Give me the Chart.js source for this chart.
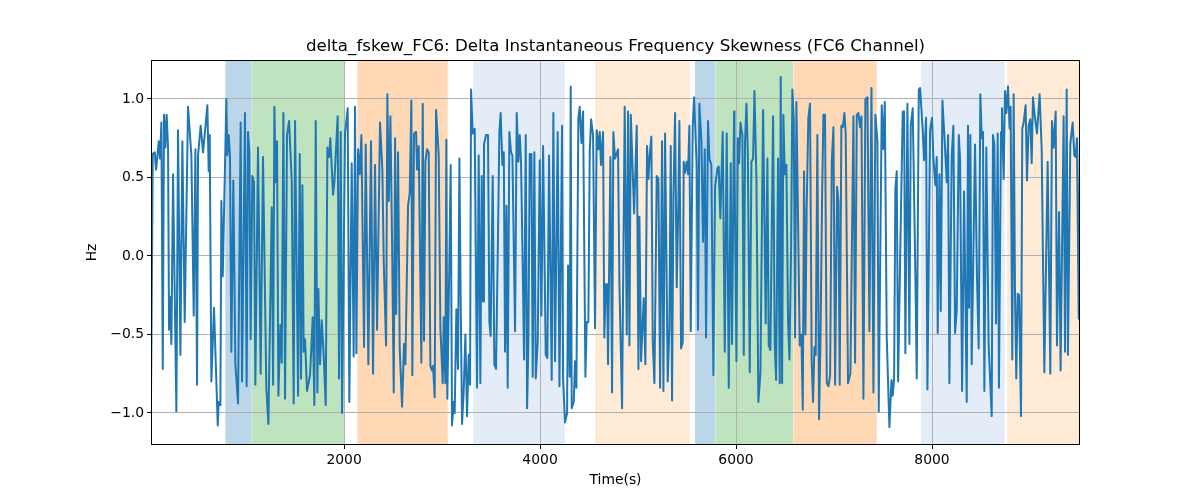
<!DOCTYPE html>
<html>
<head>
<meta charset="utf-8">
<script src="https://cdn.jsdelivr.net/npm/chart.js@4.4.1/dist/chart.umd.min.js"></script>
<style>
  html, body { margin: 0; padding: 0; background: #fff; }
</style>
</head>
<body>
<canvas id="skewChart" width="1200" height="500"></canvas>
<script>
// values
const times = [
  30, 48, 68, 82, 109, 122, 136, 150, 163, 177, 190, 204, 214, 224, 238, 255, 289, 306, 330, 350,
  374, 408, 442, 466, 483, 500, 510, 537, 561, 578, 605, 619, 629, 646, 673, 697, 711, 721, 738, 748,
  762, 799, 809, 823, 836, 850, 870, 891, 918, 945, 959, 989, 1006, 1020, 1034, 1047, 1064, 1081, 1095, 1122,
  1149, 1173, 1207, 1228, 1262, 1276, 1289, 1303, 1316, 1330, 1350, 1364, 1381, 1398, 1418, 1439, 1466, 1486, 1500, 1531,
  1548, 1561, 1575, 1588, 1602, 1622, 1653, 1680, 1697, 1711, 1728, 1738, 1755, 1772, 1792, 1813, 1830, 1847, 1860, 1888,
  1901, 1935, 1949, 1966, 1980, 2010, 2037, 2054, 2078, 2098, 2112, 2126, 2143, 2160, 2177, 2204, 2221, 2248, 2275, 2296,
  2316, 2337, 2367, 2391, 2405, 2429, 2442, 2456, 2473, 2490, 2507, 2521, 2531, 2551, 2568, 2592, 2612, 2626, 2653, 2670,
  2687, 2697, 2714, 2735, 2745, 2762, 2789, 2803, 2816, 2830, 2847, 2864, 2881, 2898, 2908, 2925, 2939, 2966, 2983, 3007,
  3017, 3034, 3044, 3054, 3068, 3088, 3102, 3119, 3129, 3146, 3163, 3177, 3191, 3204, 3221, 3238, 3255, 3272, 3286, 3296,
  3313, 3333, 3357, 3374, 3391, 3405, 3418, 3428, 3449, 3469, 3483, 3496, 3517, 3534, 3551, 3571, 3585, 3598, 3616, 3630,
  3643, 3657, 3670, 3687, 3704, 3718, 3745, 3762, 3779, 3793, 3806, 3820, 3837, 3854, 3868, 3881, 3895, 3912, 3925, 3942,
  3956, 3976, 3997, 4014, 4031, 4058, 4075, 4092, 4119, 4136, 4153, 4180, 4198, 4225, 4235, 4255, 4276, 4286, 4303, 4313,
  4323, 4344, 4357, 4371, 4391, 4405, 4422, 4439, 4463, 4476, 4493, 4507, 4521, 4541, 4561, 4578, 4595, 4609, 4622, 4643,
  4656, 4670, 4684, 4694, 4718, 4735, 4748, 4765, 4796, 4810, 4837, 4864, 4885, 4898, 4912, 4926, 4960, 4987, 5004, 5014,
  5031, 5058, 5075, 5092, 5106, 5119, 5136, 5150, 5167, 5191, 5208, 5225, 5245, 5259, 5276, 5303, 5320, 5334, 5347, 5361,
  5378, 5395, 5412, 5422, 5439, 5456, 5466, 5480, 5497, 5510, 5524, 5538, 5558, 5572, 5585, 5599, 5612, 5626, 5647, 5663,
  5681, 5694, 5714, 5728, 5748, 5769, 5786, 5810, 5823, 5840, 5864, 5885, 5905, 5926, 5946, 5959, 5980, 5984, 6004, 6018,
  6031, 6045, 6065, 6079, 6092, 6106, 6120, 6140, 6157, 6174, 6188, 6208, 6228, 6249, 6276, 6303, 6320, 6334, 6351, 6378,
  6395, 6409, 6429, 6446, 6456, 6470, 6483, 6497, 6514, 6531, 6545, 6562, 6575, 6589, 6602, 6616, 6633, 6650, 6667, 6681,
  6694, 6708, 6721, 6738, 6755, 6772, 6786, 6800, 6813, 6830, 6847, 6861, 6878, 6892, 6908, 6926, 6943, 6960, 6977, 6994,
  7011, 7031, 7045, 7058, 7075, 7089, 7106, 7119, 7143, 7167, 7198, 7215, 7232, 7249, 7266, 7280, 7300, 7320, 7341, 7361,
  7382, 7402, 7422, 7443, 7456, 7487, 7504, 7518, 7538, 7565, 7586, 7599, 7613, 7626, 7640, 7654, 7674, 7701, 7715, 7728,
  7749, 7769, 7783, 7803, 7830, 7844, 7865, 7878, 7905, 7919, 7939, 7953, 7980, 8000, 8014, 8034, 8048, 8058, 8075, 8089,
  8106, 8130, 8150, 8164, 8177, 8201, 8218, 8235, 8252, 8273, 8286, 8307, 8327, 8354, 8367, 8377, 8391, 8405, 8439, 8459,
  8476, 8493, 8507, 8520, 8534, 8554, 8578, 8609, 8622, 8636, 8653, 8670, 8683, 8704, 8714, 8731, 8745, 8758, 8775, 8792,
  8802, 8819, 8833, 8847, 8860, 8874, 8888, 8908, 8921, 8935, 8955, 8969, 8986, 9003, 9017, 9030, 9047, 9071, 9098, 9119,
  9146, 9180, 9207, 9224, 9241, 9262, 9275, 9296, 9312, 9343, 9357, 9374, 9387, 9411, 9435, 9452, 9465, 9479, 9497, 9510,
];

const values = [
  -0.91, 0.65, 0.66, 0.55, 0.73, 0.62, 0.85, -0.72, 0.90, 0.69, 0.90, 0.69, -0.47, -0.26, -0.56, 0.52, -0.99, 0.80, -0.63, 0.73,
  -0.42, 0.95, 0.64, -0.38, 0.68, -0.82, 0.64, 0.83, 0.66, 0.77, 0.96, 0.54, 0.77, -0.80, -0.33, -0.80, -1.08, -0.93, -0.95, 0.35,
  -0.13, 1.00, 0.64, 0.77, 0.64, -0.61, 0.48, -0.69, -0.94, 0.85, -0.80, 0.91, -0.83, 0.79, 0.66, -0.53, 0.51, 0.47, -0.82, 0.69,
  -0.75, 0.63, -0.84, -1.07, 0.31, -0.82, 0.95, 0.47, 0.73, -0.89, -0.44, -0.68, 0.91, -0.91, 0.77, 0.86, 0.48, -0.94, 0.86, -0.89,
  0.65, -0.78, 0.45, -0.61, -0.53, -0.86, -0.76, -0.39, -0.95, 0.86, -0.87, -0.21, -0.69, -0.41, -0.63, -0.95, 0.69, 0.63, 0.75, 0.39,
  0.47, 0.89, -0.78, 0.79, -1.00, 0.78, 0.94, -0.93, 0.59, -0.64, 0.95, -0.62, 0.68, 0.52, 0.77, -0.58, 0.71, -0.69, 0.73, -0.75,
  0.58, -0.47, 0.85, 0.55, -0.04, -0.57, 1.03, 0.35, 0.89, 0.09, -0.87, 0.75, -0.37, 0.66, -0.59, -0.96, -0.56, -0.69, 0.32, 0.40,
  0.99, -0.76, 0.78, 0.79, 0.55, 0.70, -0.68, 0.97, -0.54, 0.60, 0.68, 0.66, -0.70, -0.73, -0.70, -0.90, 0.93, 0.64, -0.46, -0.81,
  -0.39, -0.81, 0.74, -0.91, -0.33, 0.58, -1.08, -0.93, -1.00, -0.34, -0.72, 0.62, -0.33, -1.07, -0.86, -0.50, -1.02, -0.63, -0.82, 1.06,
  0.78, 0.81, -0.84, 0.64, -0.81, 0.51, -0.29, 0.71, 0.77, 0.77, -0.42, -0.51, 0.51, -0.69, -0.72, 0.13, 0.79, 0.91, 0.58, 0.66,
  -0.61, 0.32, -0.84, 0.79, 0.66, 0.64, -0.48, 0.91, 0.60, 0.77, 0.60, 0.06, -0.66, 0.77, -0.97, -0.55, 0.65, 0.65, -0.77, 0.66,
  -0.78, -0.55, 0.61, -0.38, 0.70, -0.63, -0.65, 0.64, -0.79, 0.91, -0.67, 0.79, -0.83, 0.83, -0.78, -1.06, -1.00, -0.06, -0.77, 1.08,
  -0.97, -0.93, -0.67, -0.84, 0.88, 0.95, 0.72, 0.92, -0.77, -0.42, -0.42, 0.66, 0.87, 0.77, -0.46, 0.80, 0.68, 0.79, 0.58, 0.79,
  -0.52, -0.18, -0.18, -0.69, 0.63, -0.87, 0.79, 0.62, 0.68, -0.18, -0.97, 0.95, -0.50, 0.92, -0.57, 0.90, 0.27, 0.83, -0.72, 0.25,
  -0.67, -0.27, -0.69, 0.70, 0.49, 0.64, 0.76, -0.54, -0.81, 0.51, 0.49, -0.84, 0.73, -0.86, 0.78, -0.80, -0.45, 0.70, -0.92, 0.37,
  0.91, -0.20, 0.36, 0.86, -0.59, -0.55, 0.60, 0.53, 0.60, 0.52, 0.83, -0.48, 0.83, 1.01, 0.79, 0.58, -0.47, 0.97, 0.73, 0.09,
  0.68, -0.52, 0.86, 0.62, 0.58, -0.76, 0.44, 0.56, 0.57, 0.24, 0.79, -0.61, 0.78, -0.84, 0.59, -0.56, 0.92, 0.64, -0.67, 0.75,
  0.59, 0.85, 0.77, -0.63, 0.73, 0.97, 0.66, -0.74, 0.60, 0.62, 1.05, 0.49, -0.93, -0.74, 0.93, -0.43, 0.62, -0.57, -0.60, 0.89,
  -0.57, -0.79, 0.62, -0.81, 1.14, -0.81, 0.90, 0.52, 0.58, -0.42, -0.66, 0.06, 1.06, 0.87, -0.52, 0.98, 0.22, -0.57, -0.50, -0.98,
  0.54, -0.50, 0.32, 0.88, 0.97, -0.67, -0.93, -0.58, -0.63, 0.77, -1.04, -0.57, 0.37, 0.90, 0.90, -0.81, -0.83, -0.76, 0.60, 0.82,
  -0.82, 0.44, 0.35, -0.82, 0.83, 0.82, 0.91, 0.78, -0.81, -0.75, 0.89, -0.68, 0.90, 0.91, 0.82, 0.89, -0.91, 1.00, 1.01, -0.48,
  1.07, -0.87, 0.90, 0.73, -0.99, 0.96, 0.68, 0.98, -0.52, -1.09, -0.79, -0.89, -0.78, 0.43, 0.54, -0.80, -0.04, 0.92, 0.92, -0.62,
  0.97, -0.56, 0.83, 0.94, -0.12, -0.78, 1.06, 1.07, 0.80, 0.61, 0.88, -0.85, 0.80, 0.88, 0.62, 0.45, 0.63, -0.49, 0.52, -0.35,
  0.99, 0.72, 0.47, 0.77, -0.81, 0.64, 0.83, -0.49, -0.35, 0.77, 0.62, -0.86, 0.41, -0.93, 0.83, -0.33, 0.77, -0.69, 0.71, -0.14,
  -0.59, 1.03, 0.75, 0.79, -0.86, 0.69, -0.57, -1.02, 0.77, 0.71, -0.43, 0.78, -0.84, 0.79, 0.94, 0.49, 1.05, 0.91, 1.08, 0.81,
  0.95, -0.66, 1.03, -0.25, -0.78, -0.24, -0.25, -1.02, 0.81, 0.85, 0.96, 0.48, 0.83, 0.87, 0.59, 1.01, 0.90, 0.78, 1.03, 0.68,
  -0.74, 0.60, -0.75, 0.86, 0.69, 0.92, -0.57, 0.28, -0.73, 0.89, -0.61, 1.06, -0.63, 0.71, 0.85, 0.64, 0.63, 0.75, -0.40, 0.80,
];

// shaded intervals (seconds) and their kind
const spanStarts = [789, 1058, 2136, 3317, 4562, 5582, 5790, 6586, 7888, 8766];
const spanEnds = [1055, 2002, 3058, 4252, 5528, 5786, 6582, 7436, 8742, 9510];
const spanKinds = ["blue", "green", "orange", "lightblue", "lightorange", "blue", "green", "orange", "lightblue", "lightorange"];

const xTicks = [2000, 4000, 6000, 8000];
const yTicks = [-1.0, -0.5, 0.0, 0.5, 1.0];

const titleText = "delta_fskew_FC6: Delta Instantaneous Frequency Skewness (FC6 Channel)";

const spanFill = {
  blue: "rgba(31, 119, 180, 0.3)",
  green: "rgba(44, 160, 44, 0.3)",
  orange: "rgba(255, 127, 14, 0.3)",
  lightblue: "rgba(174, 199, 232, 0.33)",
  lightorange: "rgba(255, 187, 120, 0.3)",
};

const FONT = "'DejaVu Sans', sans-serif";

const spanPlugin = {
  id: "spans",
  beforeDraw(chart) {
    const { ctx, chartArea, scales } = chart;
    ctx.save();
    for (let i = 0; i < spanStarts.length; i++) {
      const x0 = scales.x.getPixelForValue(spanStarts[i]);
      const x1 = scales.x.getPixelForValue(spanEnds[i]);
      ctx.fillStyle = spanFill[spanKinds[i]];
      ctx.fillRect(x0, chartArea.top, x1 - x0, chartArea.bottom - chartArea.top);
    }
    ctx.restore();
  },
};

// spines on all four sides + the axes title
const framePlugin = {
  id: "frame",
  afterDraw(chart) {
    const { ctx, chartArea: a } = chart;
    ctx.save();
    ctx.strokeStyle = "#000";
    ctx.lineWidth = 1;
    ctx.strokeRect(a.left + 0.5, a.top + 0.5, a.right - a.left - 1, a.bottom - a.top - 1);
    ctx.fillStyle = "#000";
    ctx.font = "16.67px " + FONT;
    ctx.textAlign = "center";
    ctx.textBaseline = "alphabetic";
    ctx.fillText(titleText, (a.left + a.right) / 2, a.top - 9);
    ctx.restore();
  },
};

const fmtY = (v) => (v < 0 ? "\u2212" + Math.abs(v).toFixed(1) : v.toFixed(1));

const ctx = document.getElementById("skewChart").getContext("2d");
new Chart(ctx, {
  type: "line",
  data: {
    datasets: [
      {
        data: times.map((t, i) => ({ x: t, y: values[i] })),
        borderColor: "#1f77b4",
        borderWidth: 2,
        pointRadius: 0,
        tension: 0,
        fill: false,
        borderJoinStyle: "round",
      },
    ],
  },
  options: {
    responsive: false,
    animation: false,
    layout: { padding: { top: 60, left: 0, right: 120, bottom: 0 } },
    plugins: {
      legend: { display: false },
      tooltip: { enabled: false },
    },
    scales: {
      x: {
        type: "linear",
        min: 30,
        max: 9510,
        afterBuildTicks: (s) => { s.ticks = xTicks.map((v) => ({ value: v })); },
        afterFit: (s) => { s.height = 55; },
        ticks: {
          color: "#000",
          font: { family: FONT, size: 13.9 },
          padding: 3,
          maxRotation: 0,
          callback: (v) => String(v),
        },
        grid: { color: "#b0b0b0", lineWidth: 1, tickColor: "#000", tickLength: 4 },
        border: { display: false },
        title: {
          display: true,
          text: "Time(s)",
          color: "#000",
          font: { family: FONT, size: 13.9 },
          padding: { top: 0, bottom: 11 },
        },
      },
      y: {
        type: "linear",
        min: -1.204,
        max: 1.248,
        afterBuildTicks: (s) => { s.ticks = yTicks.map((v) => ({ value: v })); },
        afterFit: (s) => { s.width = 151; },
        ticks: {
          color: "#000",
          font: { family: FONT, size: 13.9 },
          padding: 3,
          callback: (v) => fmtY(v),
        },
        grid: { color: "#b0b0b0", lineWidth: 1, tickColor: "#000", tickLength: 4 },
        border: { display: false },
        title: {
          display: true,
          text: "Hz",
          color: "#000",
          font: { family: FONT, size: 13.9 },
          padding: { top: 84, bottom: 0 },
        },
      },
    },
  },
  plugins: [spanPlugin, framePlugin],
});
</script>
</body>
</html>
